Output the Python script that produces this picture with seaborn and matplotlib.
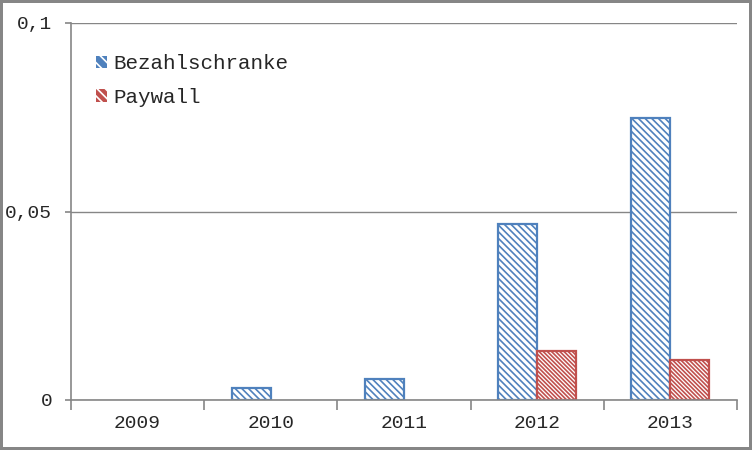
import pandas as pd
import seaborn as sns
import matplotlib.pyplot as plt
from matplotlib.patches import Patch
from matplotlib.ticker import FixedLocator

# values
years = ['2009', '2010', '2011', '2012', '2013']
bezahlschranke = [0.0, 0.0032, 0.0055, 0.0468, 0.0748]
paywall = [0.0, 0.0, 0.0, 0.0129, 0.0107]
series = ['Bezahlschranke', 'Paywall']
y_ticks = [0, 0.05, 0.1]
y_ticklabels = ['0', '0,05', '0,1']

df = pd.DataFrame({
    'year': years * 2,
    'series': [series[0]] * len(years) + [series[1]] * len(years),
    'value': bezahlschranke + paywall,
})

blue = '#4F81BD'
red = '#C0504D'
grey = '#868686'
hatches = ['\\' * 5, '\\' * 8]

sns.set_style('white')
plt.rcParams['font.family'] = ['Liberation Mono', 'DejaVu Sans Mono']
plt.rcParams['hatch.linewidth'] = 1.2

fig = plt.figure(figsize=(7.52, 4.5), dpi=100)
fig.patch.set_edgecolor(grey)
fig.patch.set_linewidth(4)
ax = fig.add_axes([71 / 752, 1 - 400 / 450, 666 / 752, 377 / 450])

sns.barplot(data=df, x='year', y='value', hue='series', order=years,
            hue_order=series, width=0.585, ax=ax, legend=False,
            palette=[blue, red])

for cont, col, h in zip(ax.containers, [blue, red], hatches):
    for bar in cont:
        bar.set_facecolor('white')
        bar.set_edgecolor(col)
        bar.set_hatch(h)
        bar.set_linewidth(1.6)
        if bar.get_height() == 0:
            bar.set_visible(False)

ax.set_xlim(-0.5, len(years) - 0.5)
ax.set_ylim(0, 0.1)
ax.set_yticks(y_ticks)
ax.set_yticklabels(y_ticklabels)
ax.set_xlabel('')
ax.set_ylabel('')

# gridlines
ax.yaxis.grid(True, color=grey, linewidth=1)
ax.set_axisbelow(True)

for s in ['top', 'right']:
    ax.spines[s].set_visible(False)
for s in ['left', 'bottom']:
    ax.spines[s].set_color(grey)
    ax.spines[s].set_linewidth(1.2)

# tick marks between categories
ax.xaxis.set_minor_locator(FixedLocator([i - 0.5 for i in range(len(years) + 1)]))
ax.tick_params(axis='x', which='major', length=0, pad=11, labelsize=14)
ax.tick_params(axis='x', which='minor', length=7, width=1.2, color=grey, bottom=True)
ax.tick_params(axis='y', which='major', length=4.5, width=1.2, color=grey,
               left=True, pad=9, labelsize=14)

handles = [Patch(facecolor=blue, edgecolor='white', hatch='\\\\\\', linewidth=0),
           Patch(facecolor=red, edgecolor='white', hatch='\\\\\\\\', linewidth=0)]
ax.legend(handles, series, loc='upper left', bbox_to_anchor=(0.037, 0.917),
          frameon=False, fontsize=15, handlelength=0.55, handleheight=0.55,
          handletextpad=0.3, labelspacing=0.7, borderpad=0, borderaxespad=0)

plt.savefig('out.png', dpi=100)
plt.close()
